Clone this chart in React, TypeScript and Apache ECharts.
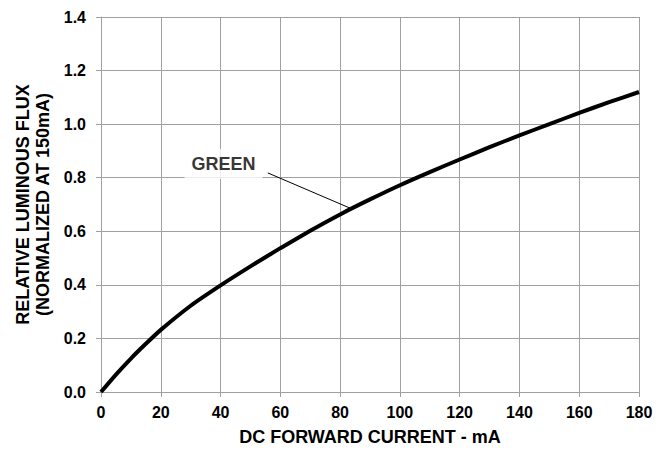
import React, { useEffect, useRef } from "react";
import * as echarts from "echarts";

const currentMA: number[] = [0, 5, 10, 15, 20, 30, 40, 50, 60, 70, 80, 90, 100, 110, 120, 130, 140, 150, 160, 170, 180];
const relativeFlux: number[] = [0, 0.065, 0.125, 0.18, 0.232, 0.322, 0.398, 0.469, 0.537, 0.602, 0.663, 0.719, 0.772, 0.821, 0.868, 0.914, 0.958, 1.0, 1.042, 1.082, 1.12];
const xTicks: number[] = [0, 20, 40, 60, 80, 100, 120, 140, 160, 180];
const yTicks: number[] = [0, 0.2, 0.4, 0.6, 0.8, 1.0, 1.2, 1.4];
const seriesLabel = "GREEN";
const labelAnchor: number[] = [41.0, 0.851];
const leaderLine: number[][] = [[55.8, 0.818], [83.2, 0.687]];
const xTitle = "DC FORWARD CURRENT - mA";
const yTitle = "RELATIVE LUMINOUS FLUX\n(NORMALIZED AT 150mA)";

const FONT = "'Liberation Sans', Arial, sans-serif";
const GRID = "#a0a0a0";

export default function App() {
  const ref = useRef<HTMLDivElement>(null);
  useEffect(() => {
    document.body.style.margin = "0";
    if (!ref.current) return;
    const chart = echarts.init(ref.current, null, { renderer: "svg" });
    chart.setOption({
      animation: false,
      backgroundColor: "#ffffff",
      grid: { left: 101, right: 28, top: 17, bottom: 62, containLabel: false },
      xAxis: {
        type: "value",
        min: xTicks[0],
        max: xTicks[xTicks.length - 1],
        interval: xTicks[1] - xTicks[0],
        name: xTitle,
        nameLocation: "middle",
        nameGap: 36,
        nameTextStyle: { fontFamily: FONT, fontWeight: "bold", fontSize: 18, color: "#000" },
        axisLine: { show: true, lineStyle: { color: GRID, width: 1 } },
        axisTick: { show: true, length: 5, lineStyle: { color: GRID } },
        splitLine: { show: true, lineStyle: { color: GRID, width: 1 } },
        axisLabel: { fontFamily: FONT, fontWeight: "bold", fontSize: 16, color: "#000", margin: 12 },
      },
      yAxis: {
        type: "value",
        min: yTicks[0],
        max: yTicks[yTicks.length - 1],
        interval: 0.2,
        name: yTitle,
        nameLocation: "middle",
        nameRotate: 90,
        nameGap: 48,
        nameTextStyle: { fontFamily: FONT, fontWeight: "bold", fontSize: 18, lineHeight: 20, color: "#000" },
        axisLine: { show: true, lineStyle: { color: GRID, width: 1 } },
        axisTick: { show: true, length: 5, lineStyle: { color: GRID } },
        splitLine: { show: true, lineStyle: { color: GRID, width: 1 } },
        axisLabel: {
          fontFamily: FONT, fontWeight: "bold", fontSize: 16, color: "#000", margin: 15,
          formatter: (v: number) => v.toFixed(1),
        },
      },
      series: [
        {
          type: "line",
          data: currentMA.map((x, i) => [x, relativeFlux[i]]),
          smooth: 0.2,
          showSymbol: false,
          symbol: "none",
          lineStyle: { color: "#000", width: 4 },
          z: 3,
        },
        {
          type: "line",
          data: leaderLine,
          symbol: "none",
          lineStyle: { color: "#000", width: 1 },
          z: 4,
        },
        {
          type: "scatter",
          data: [labelAnchor],
          symbolSize: 1,
          itemStyle: { color: "rgba(0,0,0,0)" },
          label: {
            show: true,
            position: "inside",
            formatter: seriesLabel,
            fontFamily: FONT,
            fontWeight: "bold",
            fontSize: 18,
            color: "#000",
            backgroundColor: "#ffffff",
            padding: [6, 7, 6, 7],
          },
          z: 5,
        },
      ],
    });
    return () => chart.dispose();
  }, []);
  return <div ref={ref} style={{ width: 667, height: 454 }} />;
}
